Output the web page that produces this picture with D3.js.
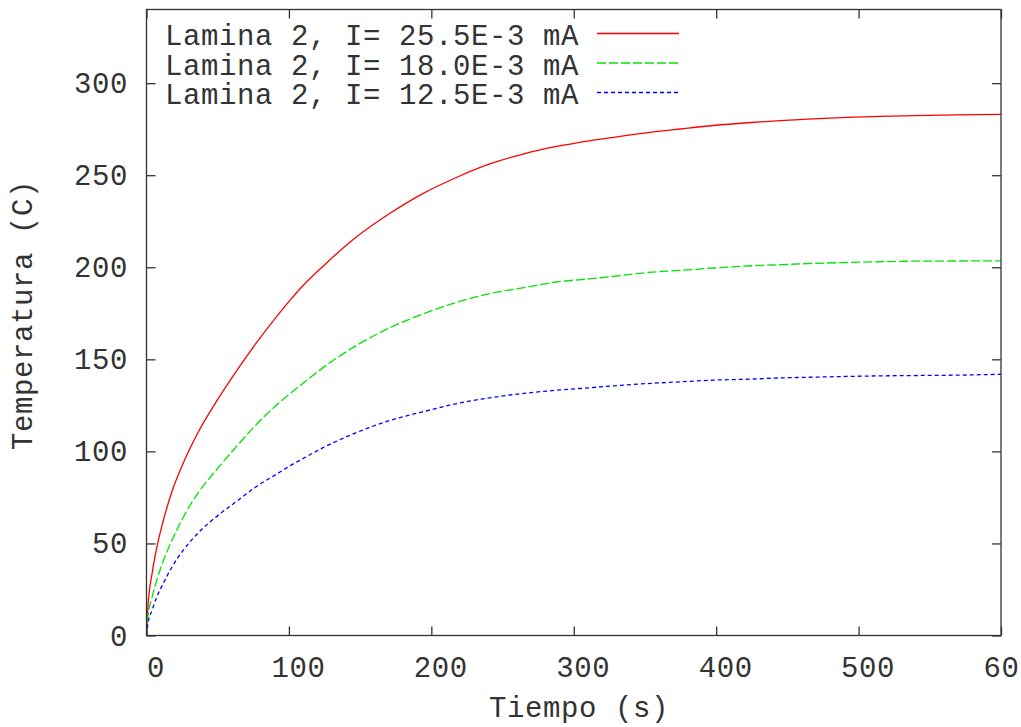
<!DOCTYPE html>
<html>
<head>
<meta charset="utf-8">
<script src="https://cdn.jsdelivr.net/npm/d3@7"></script>
<style>
  html, body { margin: 0; padding: 0; background: #fff; }
  svg { display: block; }
  text { font-family: "Liberation Mono", "Courier New", monospace; fill: #333; letter-spacing: 0.6px; }
</style>
</head>
<body>
<svg id="chart" width="1021" height="727"></svg>
<script>
// Heating curves of "Lamina 2" for three currents: time (s) vs temperature (C)
const time = [0, 1, 4, 7, 12, 18, 26, 36, 49, 63, 77, 94, 101, 108, 124, 148, 171, 194, 218, 241,
              265, 288, 312, 328, 351, 375, 398, 422, 445, 468, 492, 515, 539, 569, 600];
const temp255 = [2, 15.7, 34, 47, 63, 78.5, 94, 110, 127, 143.5, 158.8, 175.8, 182.3, 188.5, 200.6,
                 216.8, 229.3, 240, 248.9, 256.1, 261.6, 265.6, 268.8, 270.6, 273, 275.1, 277,
                 278.5, 279.6, 280.6, 281.4, 282, 282.4, 282.8, 283];
const temp180 = [1, 10.3, 21, 29.5, 41, 51.9, 64.5, 77.2, 89.9, 102.5, 114.5, 127, 131.5, 135.8, 145.5,
                 157.8, 167.2, 174.6, 181, 185.7, 188.9, 192, 193.8, 195.1, 197.1, 198.3, 199.6,
                 200.7, 201.4, 202.1, 202.6, 203, 203.3, 203.4, 203.5];
const temp125 = [0, 6.5, 13.9, 20.5, 28.6, 37.4, 46.5, 55.5, 64.5, 72.7, 80.8, 88.9, 92.3, 95.3, 102,
                 110.4, 116.8, 121.5, 126, 129.1, 131.5, 133.2, 134.6, 135.6, 136.8, 137.8, 138.7,
                 139.2, 139.9, 140.3, 140.7, 141, 141.2, 141.4, 141.9];
const seriesLabels = ["Lamina 2, I= 25.5E-3 mA", "Lamina 2, I= 18.0E-3 mA", "Lamina 2, I= 12.5E-3 mA"];
const xTicks = [0, 100, 200, 300, 400, 500, 600];
const yTicks = [0, 50, 100, 150, 200, 250, 300];
const xTitle = "Tiempo (s)";
const yTitle = "Temperatura (C)";

const seriesStyle = [
  { color: "#ff0000", dash: "none" },
  { color: "#00e600", dash: "9,3" },
  { color: "#0000ff", dash: "4,3" }
];
const seriesValues = [temp255, temp180, temp125];

const svg = d3.select("#chart");
const plotLeft = 146.5, plotRight = 1001, plotTop = 9.5, plotBottom = 635.5;
const tickLen = 9;
const fontSize = 29;

const x = d3.scaleLinear().domain([0, 600]).range([plotLeft, plotRight]);
const y = d3.scaleLinear().domain([0, 340]).range([plotBottom, plotTop]);

svg.append("defs").append("clipPath").attr("id", "plotClip")
  .append("rect").attr("x", plotLeft).attr("y", plotTop)
  .attr("width", plotRight - plotLeft).attr("height", plotBottom - plotTop);

// Curves
const line = d3.line().x(d => x(d[0])).y(d => y(d[1])).curve(d3.curveMonotoneX);
const curves = svg.append("g").attr("clip-path", "url(#plotClip)");
seriesValues.forEach((vals, i) => {
  const pts = time.map((t, k) => [t, vals[k]]);
  curves.append("path")
    .attr("d", line(pts))
    .attr("fill", "none")
    .attr("stroke", seriesStyle[i].color)
    .attr("stroke-width", 1.3)
    .attr("stroke-dasharray", seriesStyle[i].dash);
});

// Axes (inward ticks on all four sides)
function styleAxis(g) {
  g.select(".domain").remove();
  g.selectAll(".tick line").attr("stroke", "#333").attr("stroke-width", 1.3);
}
const xAxis = svg.append("g").attr("transform", `translate(0,${plotBottom})`)
  .call(d3.axisBottom(x).tickValues(xTicks).tickSizeInner(-tickLen).tickSizeOuter(0))
  .call(styleAxis);
xAxis.selectAll("text")
  .attr("x", 9).attr("y", 41).attr("dy", null)
  .attr("font-size", fontSize).attr("fill", "#333")
  .style("font-family", "Liberation Mono, monospace");

svg.append("g").attr("transform", `translate(0,${plotTop})`)
  .call(d3.axisTop(x).tickValues(xTicks).tickSizeInner(-tickLen).tickSizeOuter(0).tickFormat(""))
  .call(styleAxis);

const yAxis = svg.append("g").attr("transform", `translate(${plotLeft},0)`)
  .call(d3.axisLeft(y).tickValues(yTicks).tickSizeInner(-tickLen).tickSizeOuter(0))
  .call(styleAxis);
yAxis.selectAll("text")
  .attr("x", 128 - plotLeft).attr("dy", null).attr("y", 9.5)
  .attr("text-anchor", "end")
  .attr("font-size", fontSize).attr("fill", "#333")
  .style("font-family", "Liberation Mono, monospace");

svg.append("g").attr("transform", `translate(${plotRight},0)`)
  .call(d3.axisRight(y).tickValues(yTicks).tickSizeInner(-tickLen).tickSizeOuter(0).tickFormat(""))
  .call(styleAxis);

// Plot border
svg.append("rect")
  .attr("x", plotLeft).attr("y", plotTop)
  .attr("width", plotRight - plotLeft).attr("height", plotBottom - plotTop)
  .attr("fill", "none").attr("stroke", "#333").attr("stroke-width", 1.3);

// Axis titles
svg.append("text")
  .attr("x", 579).attr("y", 717)
  .attr("text-anchor", "middle").attr("font-size", fontSize)
  .text(xTitle);
svg.append("text")
  .attr("transform", "translate(32,315) rotate(-90)")
  .attr("text-anchor", "middle").attr("font-size", fontSize)
  .text(yTitle);

// Legend
const legend = svg.append("g");
seriesLabels.forEach((label, i) => {
  const rowY = 33.5 + i * 29.5;
  legend.append("text")
    .attr("x", 165).attr("y", rowY + 11.5)
    .attr("font-size", fontSize)
    .text(label);
  legend.append("line")
    .attr("x1", 597).attr("x2", 679)
    .attr("y1", rowY).attr("y2", rowY)
    .attr("stroke", seriesStyle[i].color)
    .attr("stroke-width", 1.3)
    .attr("stroke-dasharray", seriesStyle[i].dash);
});
</script>
</body>
</html>
